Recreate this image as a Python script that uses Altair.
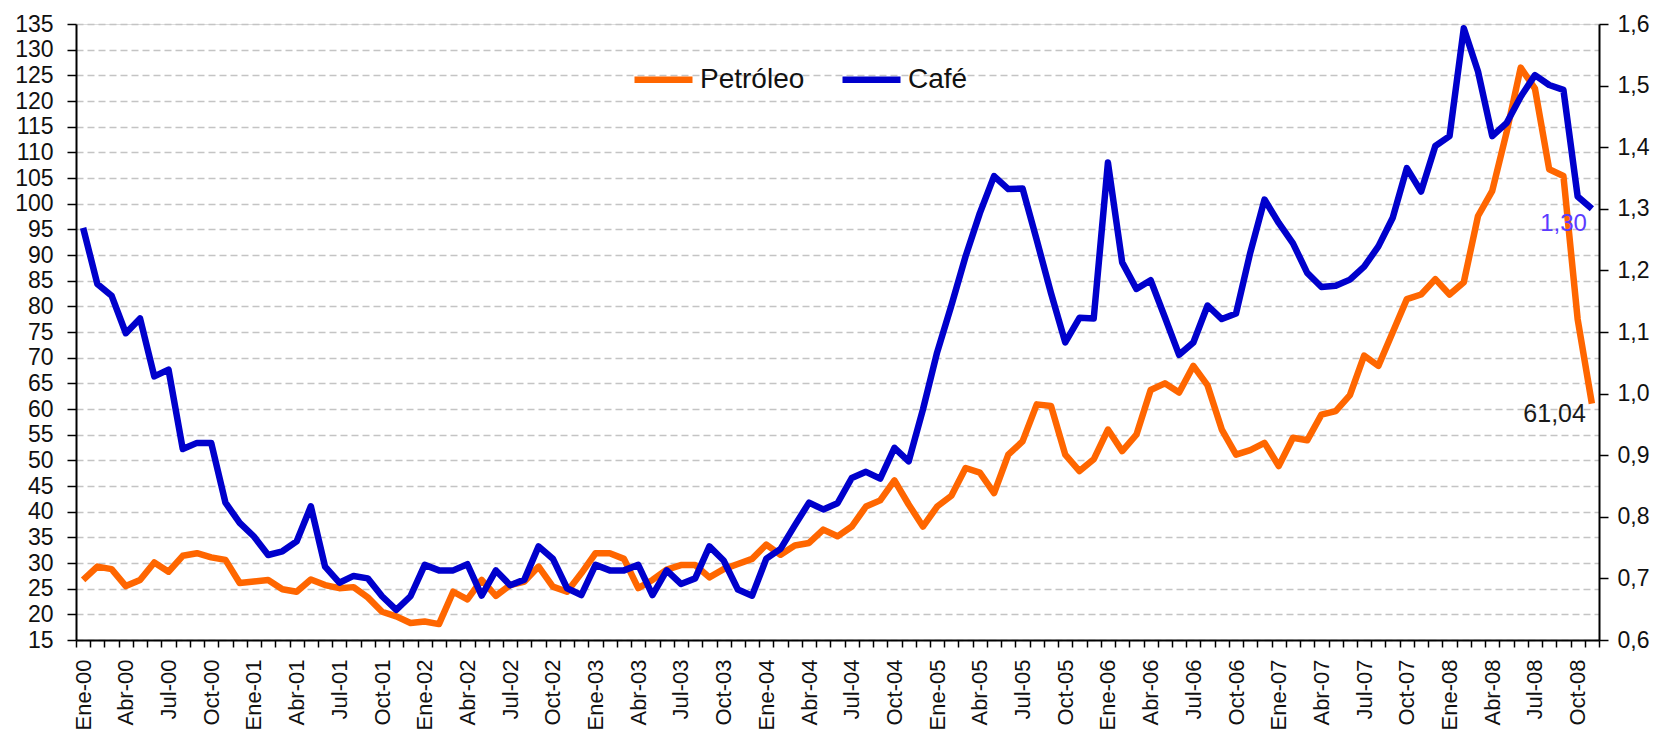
import altair as alt
import pandas as pd

FONT = "Liberation Sans"

meses = ["Ene", "Feb", "Mar", "Abr", "May", "Jun", "Jul", "Ago", "Sep", "Oct", "Nov", "Dic"]
etiquetas = [f"{m}-{a:02d}" for a in range(0, 9) for m in meses][:107]  # Ene-00 .. Nov-08

petroleo = [
    26.7, 29.3, 28.8, 25.5, 26.7, 30.1, 28.3, 31.4, 31.9, 31.1, 30.6, 26.1,
    26.4, 26.7, 24.9, 24.4, 26.8, 25.7, 25.1, 25.3, 23.3, 20.5, 19.6, 18.3,
    18.6, 18.1, 24.4, 22.9, 26.7, 23.6, 25.7, 26.4, 29.3, 25.4, 24.4, 28.0,
    31.9, 31.9, 30.8, 25.1, 26.7, 28.7, 29.6, 29.6, 27.2, 28.8, 29.8, 30.8,
    33.6, 31.6, 33.4, 33.9, 36.5, 35.2, 37.1, 41.0, 42.2, 46.1, 41.4, 37.1,
    41.0, 43.1, 48.5, 47.6, 43.6, 51.1, 53.7, 60.9, 60.6, 51.1, 47.9, 50.2,
    56.0, 51.8, 55.0, 63.7, 65.0, 63.2, 68.4, 64.6, 56.0, 51.1, 52.0, 53.4,
    48.9, 54.4, 53.9, 58.9, 59.6, 62.7, 70.4, 68.4, 74.9, 81.4, 82.3, 85.3,
    82.3, 84.7, 97.6, 102.5, 113.8, 126.5, 122.4, 106.7, 105.4, 77.5, 61.04,
]

cafe = [
    1.269, 1.178, 1.159, 1.098, 1.122, 1.028, 1.039, 0.910, 0.920, 0.920, 0.823, 0.790,
    0.768, 0.738, 0.744, 0.760, 0.817, 0.719, 0.693, 0.704, 0.700, 0.671, 0.649, 0.671,
    0.722, 0.713, 0.713, 0.723, 0.672, 0.713, 0.689, 0.698, 0.752, 0.732, 0.684, 0.673,
    0.722, 0.713, 0.713, 0.722, 0.673, 0.713, 0.691, 0.700, 0.752, 0.729, 0.682, 0.672,
    0.732, 0.748, 0.786, 0.823, 0.812, 0.822, 0.863, 0.873, 0.862, 0.912, 0.890, 0.974,
    1.067, 1.143, 1.223, 1.293, 1.353, 1.332, 1.333, 1.249, 1.163, 1.083, 1.123, 1.122,
    1.375, 1.213, 1.170, 1.184, 1.124, 1.063, 1.083, 1.143, 1.121, 1.130, 1.229, 1.315,
    1.277, 1.244, 1.196, 1.173, 1.175, 1.185, 1.206, 1.239, 1.285, 1.366, 1.328, 1.402,
    1.418, 1.593, 1.523, 1.418, 1.439, 1.482, 1.517, 1.501, 1.493, 1.320, 1.30,
]

series = ["Petróleo", "Café"]
colores = ["#FF6600", "#0000CC"]

ticks_izq = list(range(15, 136, 5))
ticks_der = [round(0.6 + 0.1 * k, 1) for k in range(11)]

df = pd.DataFrame({
    "mes": etiquetas,
    "petroleo": petroleo,
    "cafe": cafe,
    "s_pet": series[0],
    "s_caf": series[1],
})
df_ult = df.tail(1).copy()
df_ult["txt_pet"] = "61,04"
df_ult["txt_caf"] = "1,30"

x_enc = alt.X(
    "mes:O",
    sort=etiquetas,
    scale=alt.Scale(type="band", paddingInner=0, paddingOuter=0),
    axis=alt.Axis(
        title=None,
        labelAngle=-90,
        labelExpr="isString(datum.value) && indexof(['Ene','Abr','Jul','Oct'], substring(datum.value,0,3)) >= 0 ? datum.value : ''",
        labelOverlap=False,
        tickBand="extent",
        tickSize=7,
        tickWidth=1.5,
        tickColor="#000",
        domainColor="#000",
        domainWidth=2,
        labelFontSize=22,
        labelPadding=12,
        labelColor="#111",
        labelFont=FONT,
        grid=False,
    ),
)
x_txt = alt.X("mes:O", sort=etiquetas)

color_scale = alt.Scale(domain=series, range=colores)
legend = alt.Legend(
    title=None,
    orient="none",
    legendX=555,
    legendY=23,
    direction="horizontal",
    symbolType="stroke",
    symbolSize=3364,
    symbolStrokeWidth=6.5,
    labelFontSize=28,
    labelFont=FONT,
    labelColor="#111",
    labelOffset=4,
    columnPadding=24,
)

esc_pet = alt.Scale(domain=[15, 135], nice=False, zero=False)
esc_caf = alt.Scale(domain=[0.6, 1.6], nice=False, zero=False)

y_pet = alt.Y(
    "petroleo:Q",
    scale=esc_pet,
    axis=alt.Axis(
        title=None,
        values=ticks_izq,
        format="d",
        labelOverlap=False,
        grid=True,
        gridColor="#C4C4C4",
        gridDash=[7, 4],
        gridWidth=1.5,
        tickSize=9,
        tickWidth=1.5,
        tickColor="#000",
        domainColor="#000",
        domainWidth=2,
        labelFontSize=23,
        labelPadding=14,
        labelColor="#111",
        labelFont=FONT,
    ),
)

y_caf = alt.Y(
    "cafe:Q",
    scale=esc_caf,
    axis=alt.Axis(
        title=None,
        orient="right",
        values=ticks_der,
        labelExpr="replace(format(datum.value, '.1f'), '.', ',')",
        labelOverlap=False,
        grid=False,
        tickSize=9,
        tickWidth=1.5,
        tickColor="#000",
        domainColor="#000",
        domainWidth=2,
        labelFontSize=23,
        labelPadding=9,
        labelColor="#111",
        labelFont=FONT,
    ),
)

linea_pet = alt.Chart(df).mark_line(strokeWidth=6.5, strokeJoin="round").encode(
    x=x_enc,
    y=y_pet,
    color=alt.Color("s_pet:N", scale=color_scale, legend=legend),
)
linea_caf = alt.Chart(df).mark_line(strokeWidth=6.5, strokeJoin="round").encode(
    x=x_enc,
    y=y_caf,
    color=alt.Color("s_caf:N", scale=color_scale, legend=legend),
)
texto_pet = alt.Chart(df_ult).mark_text(
    align="right", baseline="middle", dx=-6, dy=10, fontSize=25, font=FONT, color="#1a1a1a"
).encode(x=x_txt, y=alt.Y("petroleo:Q", scale=esc_pet, axis=None), text="txt_pet:N")
texto_caf = alt.Chart(df_ult).mark_text(
    align="right", baseline="middle", dx=-5, dy=15, fontSize=24, font=FONT, color="#5B3BFF"
).encode(x=x_txt, y=alt.Y("cafe:Q", scale=esc_caf, axis=None), text="txt_caf:N")

chart = (
    alt.layer(linea_pet, linea_caf, texto_pet, texto_caf)
    .resolve_scale(y="independent")
    .properties(
        width=1523,
        height=616,
        autosize=alt.AutoSizeParams(type="none"),
        padding={"left": 68, "top": 16, "right": 54, "bottom": 93},
        background="white",
    )
    .configure_view(stroke=None)
    .configure(font=FONT)
)

chart.save("out.html", embed_options={"renderer": "svg", "actions": False})
